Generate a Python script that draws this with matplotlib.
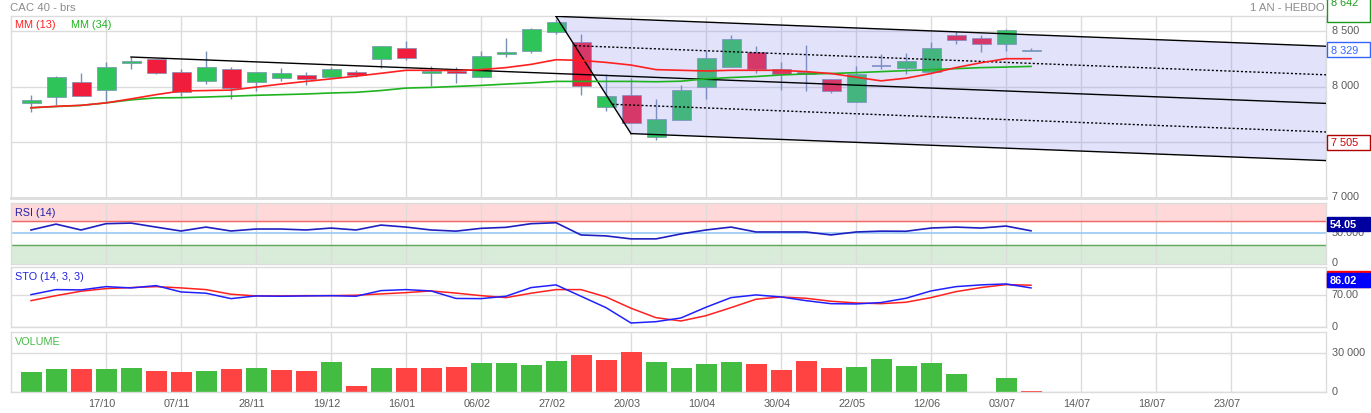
import numpy as np
import matplotlib
matplotlib.use("Agg")
import matplotlib.pyplot as plt
from matplotlib.patches import Rectangle, Polygon
from matplotlib.transforms import ScaledTranslation

plt.rcParams['font.family'] = ['Liberation Sans', 'DejaVu Sans']

W, H = 1371, 414

# weekly candles (CAC 40, 1 an hebdo)
opens = [7853, 7906, 8039, 7968, 8216, 8245, 8130, 8048, 8163, 8039,
         8083, 8104, 8088, 8136, 8248, 8349, 8124, 8142, 8092, 8296,
         8319, 8496, 8405, 7817, 7923, 7551, 7698, 8000, 8177, 8314,
         8163, 8136, 8074, 7867, 8190, 8166, 8136, 8467, 8441, 8385, 8319]
highs = [7923, 8101, 8121, 8225, 8269, 8248, 8157, 8319, 8181, 8133,
         8166, 8130, 8181, 8148, 8367, 8408, 8190, 8181, 8319, 8441,
         8529, 8609, 8470, 8112, 8077, 7893, 8015, 8328, 8461, 8363,
         8219, 8372, 8074, 8183, 8290, 8299, 8399, 8503, 8461, 8520, 8352]
lows = [7773, 7840, 7920, 7855, 8159, 8112, 7920, 8024, 7891, 7959,
        8053, 8017, 8086, 8092, 8172, 8239, 8009, 8033, 8092, 8266,
        8305, 8470, 7929, 7778, 7675, 7521, 7698, 7893, 8177, 8121,
        7973, 7964, 7944, 7867, 8157, 8115, 8136, 8387, 8310, 8325, 8319]
closes = [7882, 8086, 7920, 8181, 8230, 8127, 7953, 8174, 7986, 8130,
          8121, 8074, 8157, 8106, 8367, 8260, 8142, 8124, 8278, 8316,
          8518, 8582, 8003, 7917, 7675, 7713, 7970, 8260, 8432, 8159,
          8119, 8115, 7959, 8119, 8190, 8228, 8349, 8417, 8385, 8512, 8329]

mm13 = [7811, 7824, 7833, 7855, 7891, 7929, 7962, 7966, 7970, 7997,
        8024, 8048, 8071, 8095, 8121, 8148, 8148, 8145, 8154, 8172,
        8201, 8243, 8237, 8219, 8195, 8154, 8148, 8142, 8148, 8148,
        8148, 8136, 8119, 8086, 8053, 8077, 8119, 8172, 8216, 8252, 8252]
mm34 = [7811, 7822, 7832, 7855, 7882, 7900, 7902, 7908, 7915, 7923,
        7929, 7935, 7944, 7950, 7966, 7988, 7994, 8003, 8012, 8024,
        8035, 8048, 8048, 8048, 8048, 8045, 8050, 8071, 8083, 8092,
        8106, 8115, 8119, 8127, 8136, 8145, 8154, 8163, 8172, 8177, 8183]

rsi = [55.4, 65.1, 55.4, 65.8, 66.8, 60.2, 53.7, 60.2, 53.7, 57.0,
       57.0, 55.4, 58.6, 55.4, 63.5, 60.2, 55.4, 53.5, 58.1, 59.8,
       65.8, 67.4, 47.2, 45.6, 40.7, 40.7, 48.9, 55.4, 60.2, 52.1,
       52.1, 52.1, 47.2, 52.1, 53.5, 53.3, 58.6, 60.2, 58.6, 61.9, 54.05]

sto_k = [71.3, 82.3, 81.6, 88.8, 86.0, 91.0, 77.2, 74.4, 62.6, 68.5,
         67.8, 68.5, 69.1, 67.8, 80.1, 82.3, 79.4, 63.0, 62.6, 67.8,
         86.7, 92.6, 67.8, 42.9, 9.4, 12.3, 20.4, 43.8, 64.8, 70.7,
         66.3, 58.2, 51.6, 51.0, 54.0, 63.4, 79.4, 88.8, 92.6, 94.7, 86.02]
sto_d = [58.2, 69.1, 78.8, 84.5, 86.7, 88.8, 86.0, 82.3, 72.2, 68.5,
         68.5, 69.1, 69.1, 70.0, 72.9, 75.7, 79.4, 74.7, 69.1, 64.8,
         74.4, 82.3, 82.3, 66.3, 41.6, 21.0, 13.8, 25.4, 42.9, 61.3,
         66.3, 63.4, 56.9, 53.2, 51.6, 54.7, 64.8, 77.9, 86.7, 93.2, 91.9]

volume = [15400, 17900, 17700, 17900, 18700, 16400, 15600, 16400, 17900, 18500,
          17200, 16200, 23300, 4600, 18500, 18700, 18700, 19800, 22300, 22800,
          20800, 23800, 28900, 24600, 31000, 23300, 18900, 21800, 23300, 21500,
          16900, 24100, 18700, 19700, 25600, 20200, 22300, 14100, 0, 11300, 1000]

date_labels = ["17/10", "07/11", "28/11", "19/12", "16/01", "06/02", "27/02", "20/03",
               "10/04", "30/04", "22/05", "12/06", "03/07", "14/07", "18/07", "23/07"]
date_idx = list(range(3, 49, 3))

# regression channel (top line start, slope per week, quarter width)
chan_start = 21
chan_top = 8633
chan_slope = -8.72
chan_step = 257
mid_start = 4

year_high = 8642
year_low = 7505

x = np.arange(len(closes))
XMIN, XMAX = -0.8, 51.8
GREEN, RED = '#2ec45a', '#f01e3c'
WICK = '#7890b4'
GRID = '#dcdcdc'
TXT = '#5a5a5a'
FS = 7.8


def rect(left, top, right, bottom):
    return [left / W, 1 - bottom / H, (right - left) / W, (bottom - top) / H]


fig = plt.figure(figsize=(W / 100, H / 100), dpi=100)
ax_p = fig.add_axes(rect(11, 17, 1326, 199))
ax_r = fig.add_axes(rect(11, 204, 1326, 264.5))
ax_s = fig.add_axes(rect(11, 268.3, 1326, 328.3))
ax_v = fig.add_axes(rect(11, 333.3, 1326, 393.3))

up = ScaledTranslation(0, 2.5 / 100, fig.dpi_scale_trans)
for ax in (ax_p, ax_r, ax_s, ax_v):
    ax.set_xlim(XMIN, XMAX)
    ax.set_xticks(date_idx)
    ax.yaxis.tick_right()
    ax.tick_params(length=0, labelsize=FS, labelcolor=TXT, pad=4)
    ax.grid(True, color=GRID, lw=1, zorder=0)
    ax.set_axisbelow(True)
    for s in ax.spines.values():
        s.set_color(GRID)
        s.set_linewidth(1)
    if ax is not ax_v:
        ax.tick_params(labelbottom=False)
ax_p.spines['bottom'].set_linewidth(2)

# price panel
ax_p.set_ylim(7000, 8636)
ax_p.set_yticks([7000, 7500, 8000, 8500])
ax_p.set_yticklabels(["7 000", "7 500", "8 000", "8 500"])

for i in x:
    o, h, l, c = opens[i], highs[i], lows[i], closes[i]
    ax_p.vlines(i, l, h, color=WICK, lw=1, zorder=2)
    if c == o:
        ax_p.hlines(c, i - 0.38, i + 0.38, color=WICK, lw=1.2, zorder=3)
    else:
        col = GREEN if c > o else RED
        ax_p.add_patch(Rectangle((i - 0.38, min(o, c)), 0.76, max(abs(c - o), 12),
                                 facecolor=col, edgecolor=WICK, lw=0.5, zorder=3))


def top_line(xx):
    return chan_top + chan_slope * (np.asarray(xx) - chan_start)


xb = chan_start + 3
poly = [(chan_start, top_line(chan_start)), (XMAX, top_line(XMAX)),
        (XMAX, top_line(XMAX) - 4 * chan_step), (xb, top_line(xb) - 4 * chan_step)]
ax_p.add_patch(Polygon(poly, closed=True, facecolor=(0.55, 0.55, 0.95), alpha=0.25,
                       edgecolor='none', zorder=4))
ax_p.plot([chan_start, xb], [top_line(chan_start), top_line(xb) - 4 * chan_step],
          color='black', lw=1, zorder=5)
for k in range(5):
    x0 = chan_start + 0.75 * k
    if k == 2:
        x0 = mid_start
    xs = np.array([x0, XMAX])
    ax_p.plot(xs, top_line(xs) - k * chan_step, color='black', lw=1,
              ls=(0, (1.5, 1.5)) if k in (1, 3) else '-', zorder=5)

ax_p.plot(x, mm34, color='#1fb31f', lw=1.2, zorder=6)
ax_p.plot(x, mm13, color='#ff2020', lw=1.2, zorder=6)

# RSI panel
ax_r.set_ylim(0, 100)
ax_r.set_yticks([0, 50])
ax_r.set_yticklabels(["0", "50.000"])
ax_r.grid(False, axis='y')
ax_r.axhspan(70, 100, color='#ffd9d9', zorder=0)
ax_r.axhspan(0, 30, color='#d9ecd9', zorder=0)
ax_r.axhline(70, color='#f06464', lw=1, zorder=1)
ax_r.axhline(30, color='#5fa85f', lw=1, zorder=1)
ax_r.axhline(50, color='#96c8f5', lw=1.2, zorder=1)
ax_r.plot(x, rsi, color='#2020c0', lw=1.2, zorder=3)

# stochastic panel
ax_s.set_ylim(0, 131)
ax_s.set_yticks([0, 70])
ax_s.set_yticklabels(["0", "70.00"])
ax_s.plot(x, sto_d, color='#ff2020', lw=1.1, zorder=3)
ax_s.plot(x, sto_k, color='#2020ff', lw=1.1, zorder=3)

# volume panel
vcol = ['#42bd42'] + ['#42bd42' if closes[i] >= closes[i - 1] else '#ff4242'
                      for i in range(1, len(closes))]
ax_v.bar(x, volume, width=0.84, color=vcol, zorder=2)
ax_v.set_ylim(0, 46150)
ax_v.set_yticks([0, 30000])
ax_v.set_yticklabels(["0", "30 000"])
ax_v.set_xticklabels(date_labels)
ax_v.tick_params(axis='x', pad=4)

left = ScaledTranslation(-4 / 100, 0, fig.dpi_scale_trans)
for lab in ax_v.get_xticklabels():
    lab.set_transform(lab.get_transform() + left)
for ax in (ax_p, ax_r, ax_s, ax_v):
    for lab in ax.get_yticklabels():
        lab.set_transform(lab.get_transform() + up)


def ftext(px, py, s, **kw):
    kw.setdefault('fontsize', FS)
    fig.text(px / W, 1 - py / H, s, va='center', **kw)


def fbox(x0, y0, x1, y1, fc, ec):
    fig.add_artist(Rectangle((x0 / W, 1 - y1 / H), (x1 - x0) / W, (y1 - y0) / H,
                             transform=fig.transFigure, facecolor=fc, edgecolor=ec,
                             lw=1, zorder=5, clip_on=False))


ftext(10, 8, "CAC 40 - brs", color='#8c8c8c', fontsize=8.2)
ftext(1325, 8, "1 AN - HEBDO", color='#8c8c8c', fontsize=8.2, ha='right')
ftext(15, 25, "MM (13)", color='#ff2020')
ftext(71, 25, "MM (34)", color='#1fb31f')
ftext(15, 213.5, "RSI (14)", color='#2222aa')
ftext(15, 277, "STO (14, 3, 3)", color='#2222dd')
ftext(15, 342, "VOLUME", color='#44bb44')

# value markers on the right axis
fbox(1326.5, -10, 1369.5, 23.3, 'white', '#1a9a1a')
ftext(1331, 3, f"{year_high:,}".replace(",", " "), color='#1a9a1a', zorder=6)
fbox(1326.5, 43.3, 1369.5, 58.3, 'white', '#3366ff')
ftext(1331, 51, f"{closes[-1]:,}".replace(",", " "), color='#3366ff', zorder=6)
fbox(1326.5, 135.7, 1369.5, 150.7, 'white', '#b00000')
ftext(1331, 143.5, f"{year_low:,}".replace(",", " "), color='#cc0000', zorder=6)
fbox(1327, 218.3, 1370, 232.3, '#0000a0', '#0000a0')
ftext(1330, 225.5, f"{rsi[-1]:.2f}", color='white', fontweight='bold', zorder=6)
fbox(1327, 272.3, 1370, 288.3, '#ff0000', '#ff0000')
fbox(1327, 274, 1370, 288.3, '#0000ff', '#0000ff')
ftext(1330, 281.5, f"{sto_k[-1]:.2f}", color='white', fontweight='bold', zorder=6)

fig.savefig("out.png", dpi=100)
